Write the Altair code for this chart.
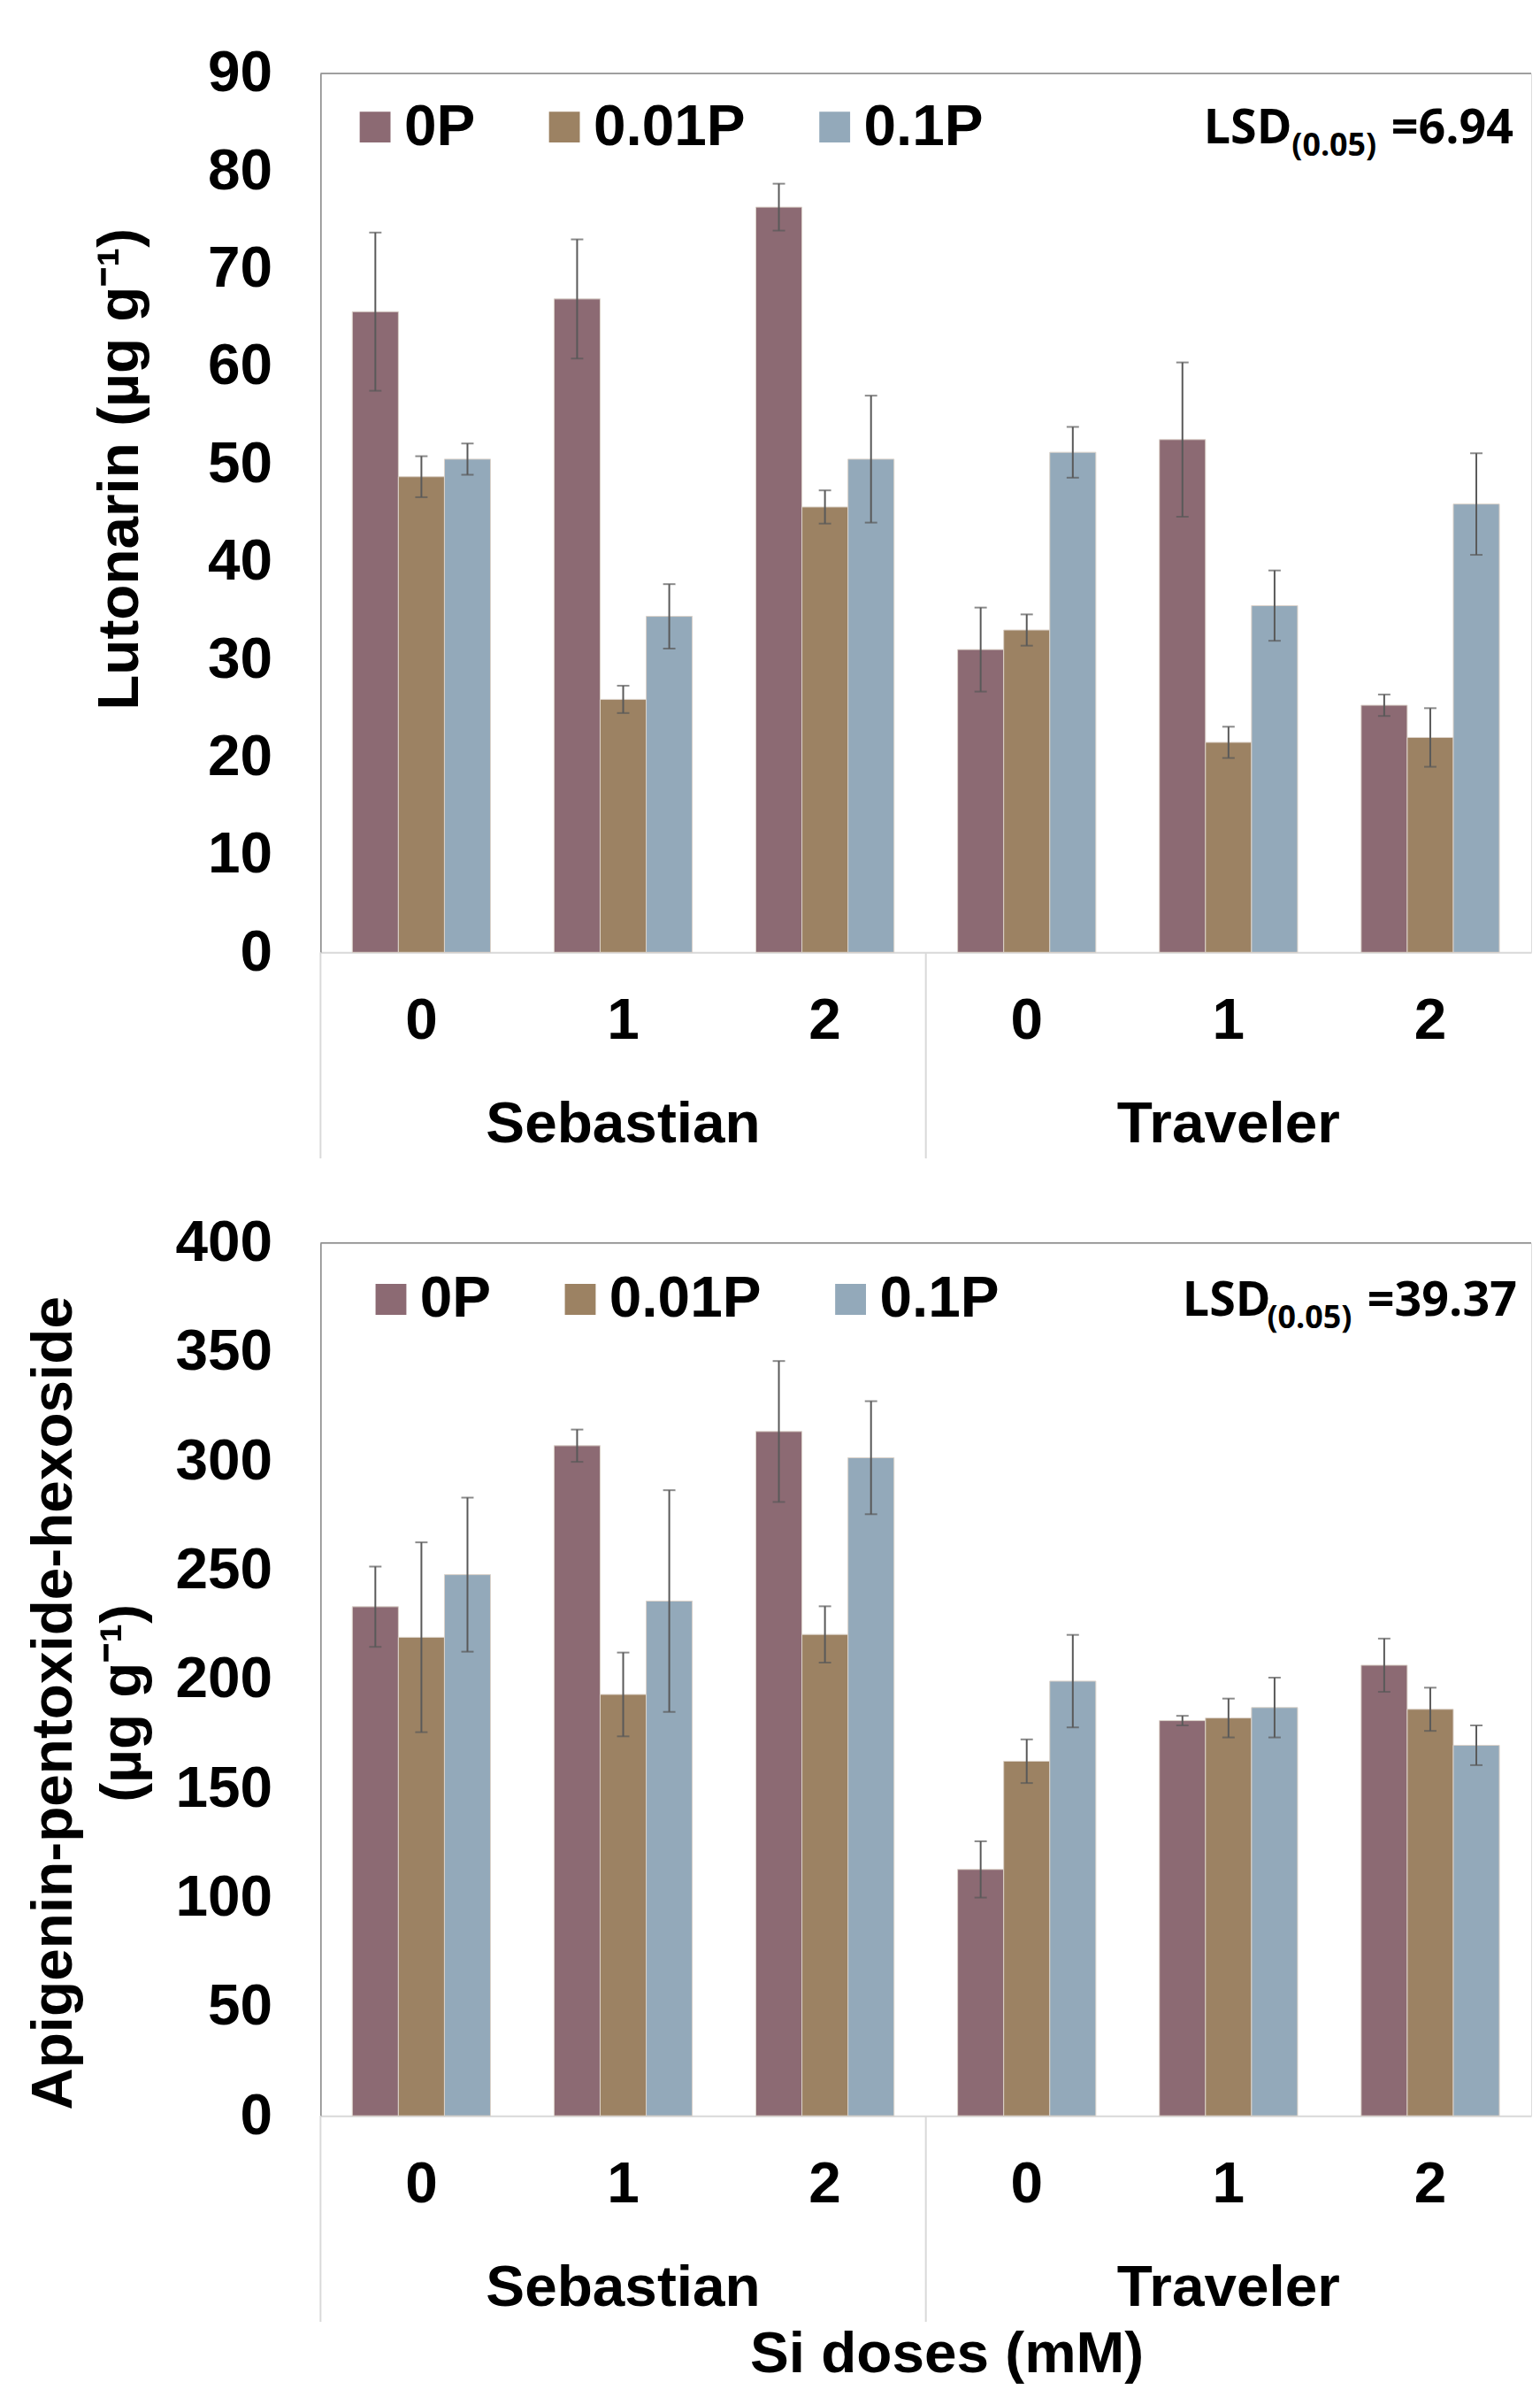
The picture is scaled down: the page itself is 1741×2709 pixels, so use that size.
import altair as alt
import pandas as pd

cultivars = ["Sebastian", "Traveler"]
doses = ["0", "1", "2"]
levels = ["0P", "0.01P", "0.1P"]
colors = ["#8C6A73", "#9C8263", "#93A9BA"]

# values ordered: cultivar -> Si dose -> P level
lut_mean = [65.6, 48.7, 50.5, 66.9, 25.9, 34.4, 76.3, 45.6, 50.5,
            31.0, 33.0, 51.2, 52.5, 21.5, 35.5, 25.3, 22.0, 45.9]
lut_err = [8.1, 2.1, 1.6, 6.1, 1.4, 3.3, 2.4, 1.7, 6.5,
           4.3, 1.6, 2.6, 7.9, 1.6, 3.6, 1.1, 3.0, 5.2]
api_mean = [233.3, 219.3, 248.0, 307.1, 193.1, 235.9, 313.6, 220.6, 301.6,
            112.9, 162.5, 199.2, 181.1, 182.3, 187.1, 206.5, 186.3, 169.8]
api_err = [18.4, 43.5, 35.3, 7.4, 19.2, 50.8, 32.3, 12.9, 25.9,
           12.9, 10.0, 21.2, 2.2, 8.9, 13.7, 12.2, 9.9, 9.1]

lsd_values = ["=6.94", "=39.37"]
y_titles = ["Lutonarin (µg g⁻¹)", ["Apigenin-pentoxide-hexoside", "(µg g⁻¹)"]]
x_title = "Si doses (mM)"

keys = [f"{c}|{d}" for c in cultivars for d in doses]

FONT = "Liberation Sans"
W = 1375


def make_df(mean, err):
    rows = []
    i = 0
    for c in cultivars:
        for d in doses:
            for p in levels:
                rows.append({"cultivar": c, "dose": d, "key": f"{c}|{d}", "P": p,
                             "mean": mean[i], "lo": mean[i] - err[i], "hi": mean[i] + err[i]})
                i += 1
    return pd.DataFrame(rows)


def panel(mean, err, ymax, ystep, ytitle, tx, ty, lsd, leg_x, leg_y, lsd_pos, H, xtitle=None):
    df = make_df(mean, err)
    base = alt.Chart(df)
    xoff = alt.XOffset("P:N", sort=levels, scale=alt.Scale(paddingInner=0, paddingOuter=0.69))
    xscale = alt.Scale(paddingInner=0, paddingOuter=0)
    yscale = alt.Scale(domain=[0, ymax], nice=False, zero=True)

    xaxis = dict(orient="bottom", title=None, labelExpr="split(datum.label, '|')[1]",
                 ticks=False, tickSize=0, labelPadding=78, labelBaseline="middle", labelAngle=0,
                 domainColor="#D9D9D9", domainWidth=2, labelFontSize=66, labelFontWeight="bold",
                 labelColor="black", labelFont=FONT, grid=False)
    if xtitle:
        xaxis.update(title=xtitle, titleFontSize=66, titleFontWeight="bold", titleFont=FONT,
                     titleColor="black", titleBaseline="middle", titleX=711, titleY=271,
                     titleAlign="center")
    xax = alt.Axis(**xaxis)
    yax = alt.Axis(
        values=list(range(0, ymax + 1, ystep)), title=ytitle, titleX=tx, titleY=ty,
        titleBaseline="middle", titleAlign="center", titleAngle=270, titleFontSize=66,
        titleFontWeight="bold", titleColor="black", titleFont=FONT, titleLineHeight=78,
        labelFontSize=66, labelFontWeight="bold", labelFont=FONT, labelColor="black",
        labelPadding=55, ticks=False, tickSize=0, domainColor="#868686", domainWidth=1.5,
        grid=False)

    def X(**kw):
        return alt.X("key:N", sort=keys, scale=xscale, axis=xax, **kw)

    def Y(field):
        return alt.Y(field, scale=yscale, axis=yax)

    bars = base.mark_bar(stroke="#DCD3CA", strokeWidth=1).encode(
        x=X(), xOffset=xoff, y=Y("mean:Q"),
        color=alt.Color("P:N", sort=levels, scale=alt.Scale(domain=levels, range=colors),
                        legend=alt.Legend(
                            orient="none", legendX=leg_x, legendY=leg_y, direction="horizontal",
                            title=None, symbolType="square", symbolSize=1225, symbolStrokeWidth=0,
                            symbolOpacity=1, labelFontSize=66, labelFont=FONT, labelFontWeight="bold",
                            labelColor="black", labelLimit=500, columnPadding=68, labelOffset=0,
                            padding=0)),
    )
    rules = base.mark_rule(color="#595959", strokeWidth=2).encode(
        x=X(), xOffset=xoff, y=Y("lo:Q"), y2="hi:Q")
    cap_lo = base.mark_tick(color="#595959", thickness=2, size=14).encode(
        x=X(), xOffset=xoff, y=Y("lo:Q"))
    cap_hi = base.mark_tick(color="#595959", thickness=2, size=14).encode(
        x=X(), xOffset=xoff, y=Y("hi:Q"))

    # top frame line at the top of the value axis
    topline = alt.Chart(pd.DataFrame({"v": [ymax]})).mark_rule(
        color="#868686", strokeWidth=1.5).encode(y=Y("v:Q"))

    # cultivar separators and labels (multi-level category axis)
    sep_df = pd.DataFrame({"key": [f"{c}|{doses[0]}" for c in cultivars]})
    seps = alt.Chart(sep_df).mark_rule(color="#D9D9D9", strokeWidth=2).encode(
        x=X(bandPosition=0), y=alt.value(H), y2=alt.value(H + 234))
    lab_df = pd.DataFrame({"key": [f"{c}|{doses[1]}" for c in cultivars], "cultivar": cultivars})
    cult_labels = alt.Chart(lab_df).mark_text(
        font=FONT, fontWeight="bold", fontSize=66, baseline="middle", align="center",
        color="black").encode(x=X(), y=alt.value(H + 196), text="cultivar:N")

    (lx, ly), (sx, sy), (vx, vy) = lsd_pos
    t1 = alt.Chart(pd.DataFrame({"t": ["LSD"]})).mark_text(
        font="Open Sans", fontWeight="bold", fontSize=54, align="left", baseline="alphabetic",
        color="black").encode(text="t:N", x=alt.value(lx), y=alt.value(ly))
    t2 = alt.Chart(pd.DataFrame({"t": ["(0.05)"]})).mark_text(
        font="Open Sans", fontWeight="bold", fontSize=36, align="left", baseline="alphabetic",
        color="black").encode(text="t:N", x=alt.value(sx), y=alt.value(sy))
    t3 = alt.Chart(pd.DataFrame({"t": [lsd]})).mark_text(
        font="Open Sans", fontWeight="bold", fontSize=54, align="left", baseline="alphabetic",
        color="black").encode(text="t:N", x=alt.value(vx), y=alt.value(vy))

    return alt.layer(bars, rules, cap_lo, cap_hi, topline, seps, cult_labels, t1, t2, t3).properties(
        width=W, height=H)


top = panel(lut_mean, lut_err, 90, 10, y_titles[0], -228, 449, lsd_values[0], 29, 28,
            [(1003, 79), (1103, 94), (1216, 79)], 998)
bottom = panel(api_mean, api_err, 400, 50, y_titles[1], -303, 522, lsd_values[1], 47, 31,
               [(979, 83), (1075, 97), (1189, 83)], 991, xtitle=x_title)

chart = alt.vconcat(top, bottom, spacing=60).resolve_scale(color="independent").properties(
    padding={"left": 19, "top": 35, "right": 0, "bottom": 0}
).configure_view(stroke=None).configure(font=FONT)

chart.save("out.html", embed_options={"renderer": "svg", "actions": False})
